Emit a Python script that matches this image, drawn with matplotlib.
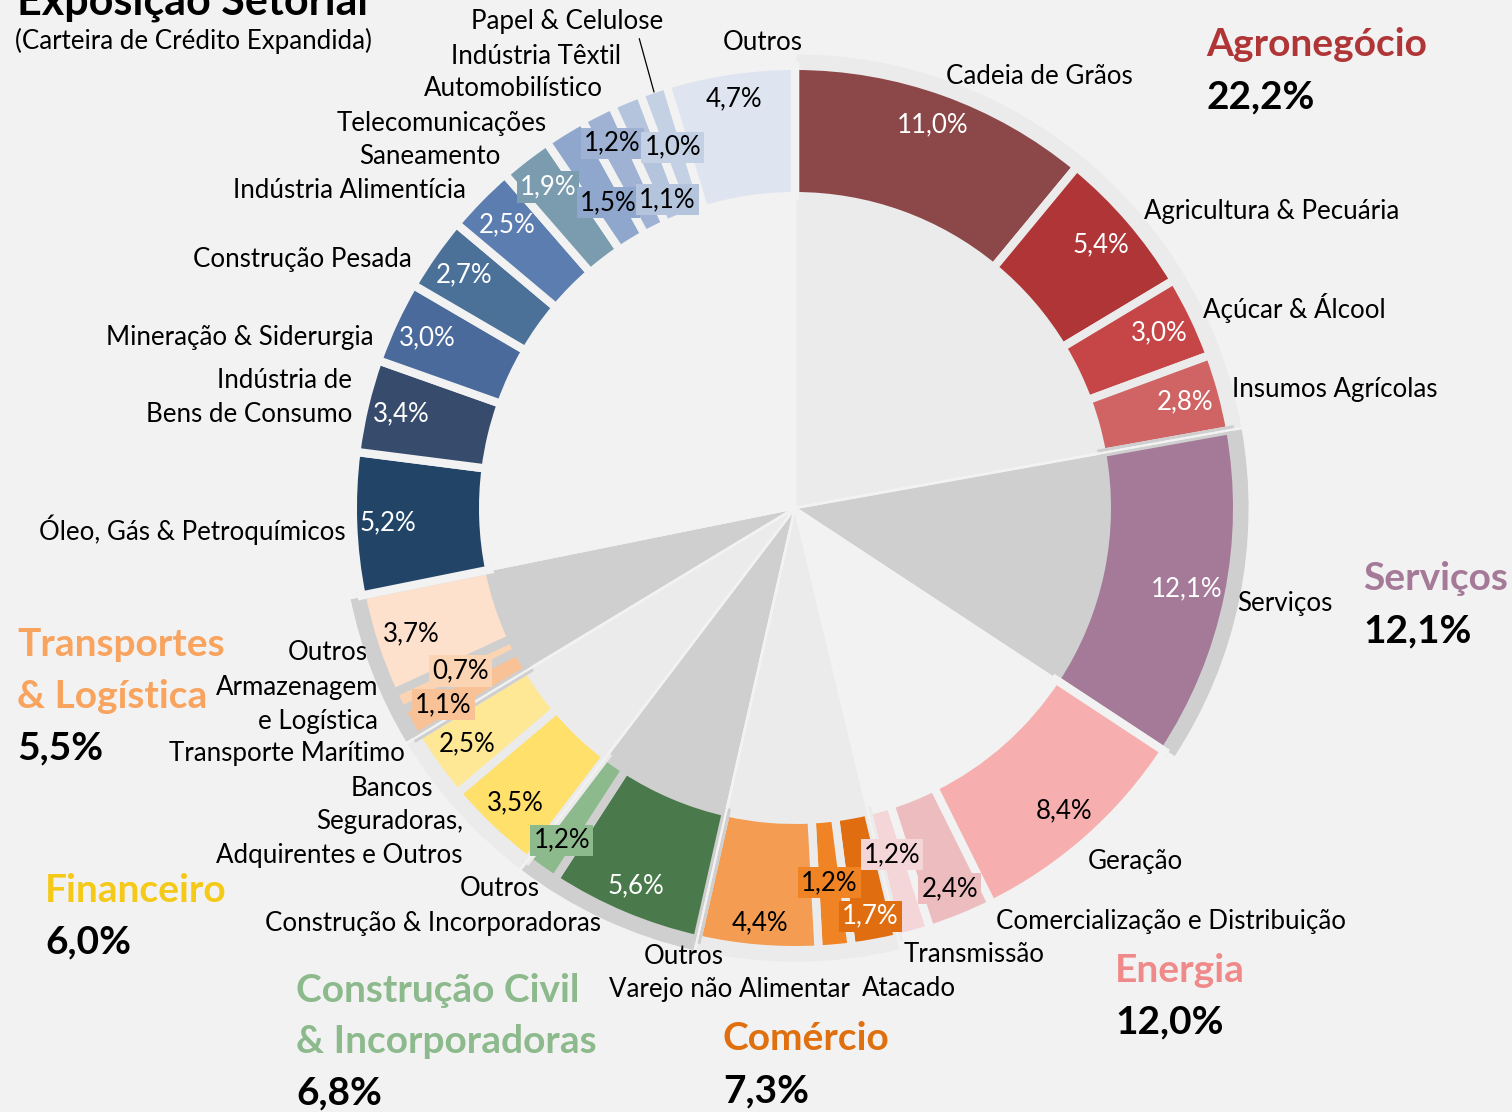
import matplotlib
matplotlib.use('Agg')
import matplotlib.pyplot as plt
import numpy as np

# ---------------- data ----------------
agro_labels = ['Cadeia de Grãos', 'Agricultura & Pecuária', 'Açúcar & Álcool', 'Insumos Agrícolas']
agro_values = [11.0, 5.4, 3.0, 2.8]
serv_labels = ['Serviços']
serv_values = [12.1]
energia_labels = ['Geração', 'Comercialização e Distribuição', 'Transmissão']
energia_values = [8.4, 2.4, 1.2]
comercio_labels = ['Atacado', 'Varejo não Alimentar', 'Outros']
comercio_values = [1.7, 1.2, 4.4]
constr_labels = ['Construção & Incorporadoras', 'Outros']
constr_values = [5.6, 1.2]
fin_labels = ['Seguradoras,\nAdquirentes e Outros', 'Bancos']
fin_values = [3.5, 2.5]
transp_labels = ['Transporte Marítimo', 'Armazenagem\ne Logística', 'Outros']
transp_values = [1.1, 0.7, 3.7]
ind_labels = ['Óleo, Gás & Petroquímicos', 'Indústria de\nBens de Consumo', 'Mineração & Siderurgia',
              'Construção Pesada', 'Indústria Alimentícia', 'Saneamento', 'Telecomunicações',
              'Automobilístico', 'Indústria Têxtil', 'Papel & Celulose', 'Outros']
ind_values = [5.2, 3.4, 3.0, 2.7, 2.5, 1.9, 1.5, 1.2, 1.1, 1.0, 4.7]
group_names = ['Agronegócio', 'Serviços', 'Energia', 'Comércio', 'Construção Civil\n& Incorporadoras',
               'Financeiro', 'Transportes\n& Logística', 'Indústria']

title = 'Exposição Setorial'
subtitle = '(Carteira de Crédito Expandida)'

groups_labels = [agro_labels, serv_labels, energia_labels, comercio_labels, constr_labels,
                 fin_labels, transp_labels, ind_labels]
groups_values = [agro_values, serv_values, energia_values, comercio_values, constr_values,
                 fin_values, transp_values, ind_values]

# ---------------- style / layout ----------------
W, H = 1512, 1112
FIG_BG = '#f2f2f2'
LIGHT = '#ebebeb'
DARK = '#cfcfcf'
group_bg = [LIGHT, DARK, FIG_BG, LIGHT, DARK, LIGHT, DARK, FIG_BG]
group_title_colors = ['#b03537', '#a47a98', '#f08a8a', '#e0700f', '#8cba8c', '#f5c918', '#f8a35e', None]
seg_colors = [
    ['#8c4748', '#b03537', '#c64546', '#d06363'],
    ['#a47a98'],
    ['#f6aeae', '#ecbcbf', '#f5d6d8'],
    ['#e06e10', '#f08424', '#f39c52'],
    ['#4a7a4c', '#8cba8c'],
    ['#fee06a', '#fee896'],
    ['#f8c196', '#fbd4b4', '#fde1cc'],
    ['#214467', '#374b6c', '#4a6a9c', '#4b7199', '#5b7db0', '#7b9caf', '#8fa7cc', '#9fb2d3',
     '#b4c4dd', '#c4d0e4', '#dee5f0'],
]
pct_white = [
    [1, 1, 1, 1], [1], [0, 0, 0], [1, 0, 0], [1, 0], [0, 0], [0, 0, 0],
    [1, 1, 1, 1, 1, 1, 0, 0, 0, 0, 0],
]
pct_box = [
    [0, 0, 0, 0], [0], [0, 1, 1], [1, 1, 0], [0, 1], [0, 0], [1, 1, 0],
    [0, 0, 0, 0, 0, 1, 1, 1, 1, 1, 0],
]
pct_r = [
    [407, 403, 404, 404], [400], [405, 411, 360], [415, 376, 416], [410, 406], [406, 404],
    [403, 372, 404],
    [407, 405, 405, 405, 404, 405, 358, 408, 334, 381, 414],
]
# name label positions in image pixels (x, y from top, horizontal alignment)
name_pos = [
    [(946, 76, 'left'), (1144, 211, 'left'), (1203, 308, 'left'), (1232, 389, 'left')],
    [(1237, 604, 'left')],
    [(1088, 861, 'left'), (996, 921, 'left'), (904, 954, 'left')],
    [(862, 988, 'left'), (850, 990, 'right'), (724, 957, 'right')],
    [(601, 923, 'right'), (540, 889, 'right')],
    [(463, 838, 'right'), (433, 788, 'right')],
    [(405, 754, 'right'), (378, 704, 'right'), (368, 653, 'right')],
    [(346, 530, 'right'), (352, 397, 'right'), (374, 337, 'right'), (412, 260, 'right'),
     (466, 190, 'right'), (501, 157, 'right'), (547, 123, 'right'), (603, 89, 'right'),
     (621, 56, 'right'), (567, 22, 'center'), (763, 42, 'center')],
]
group_title_pos = [(1206, 45), (1363, 579), (1115, 970), (723, 1039), (296, 990), (45, 890), (17, 645), None]
TITLE_STEP = 51.5

CX, CY_IMG = 795, 508
CY = H - CY_IMG
R_BG = 455
LW = 6.0                      # points
LW_PX = LW * 100 / 72
R_OUT = 438 + LW_PX / 2
R_IN = 316 - LW_PX / 2

FONT = ['Lato', 'DejaVu Sans']
FS = 18.6
FS_G = 28
LINESP = 1.45

plt.rcParams['font.family'] = FONT

fig = plt.figure(figsize=(W / 100, H / 100), dpi=100, facecolor=FIG_BG)
ax = fig.add_axes([0, 0, 1, 1])
ax.set_facecolor(FIG_BG)

group_totals = [sum(v) for v in groups_values]
all_values = [v for g in groups_values for v in g]
all_colors = [c for g in seg_colors for c in g]
seg_group = [gi for gi, g in enumerate(groups_values) for _ in g]
total = sum(all_values)

# background wedges per group
bg_wedges, _ = ax.pie(group_totals, radius=R_BG, center=(CX, CY), startangle=90, counterclock=False,
                      colors=group_bg, normalize=True,
                      wedgeprops=dict(edgecolor=FIG_BG, linewidth=2))

# ring segments
seg_wedges, _ = ax.pie(all_values, radius=R_OUT, center=(CX, CY), startangle=90, counterclock=False,
                       colors=all_colors, normalize=True,
                       wedgeprops=dict(width=R_OUT - R_IN, linewidth=LW))
for w, gi in zip(seg_wedges, seg_group):
    w.set_edgecolor(group_bg[gi])
    w.set_clip_path(bg_wedges[gi])

# group separators drawn again on top
ax.pie(group_totals, radius=R_BG, center=(CX, CY), startangle=90, counterclock=False,
       colors=['none'] * len(group_totals), normalize=True,
       wedgeprops=dict(edgecolor=FIG_BG, linewidth=1.5, fill=False))

ax.set_xlim(0, W)
ax.set_ylim(0, H)
ax.set_aspect('equal')
ax.axis('off')


def fmt(v):
    return f'{v:.1f}'.replace('.', ',') + '%'


# percentage labels
cum = 0.0
for gi, vals in enumerate(groups_values):
    for si, v in enumerate(vals):
        theta = np.deg2rad((cum + v / 2) / total * 360)
        cum += v
        r = pct_r[gi][si]
        x = CX + r * np.sin(theta)
        y = CY + r * np.cos(theta)
        kw = {}
        if pct_box[gi][si]:
            kw['bbox'] = dict(boxstyle='square,pad=0.12', fc=seg_colors[gi][si], ec='none')
        ax.text(x, y, fmt(v), ha='center', va='center', fontsize=FS,
                color='white' if pct_white[gi][si] else 'black', **kw)

# segment name labels
for gi, labs in enumerate(groups_labels):
    for si, lab in enumerate(labs):
        x, y, ha = name_pos[gi][si]
        if lab == 'Papel & Celulose':
            ax.annotate(lab, xy=(654, H - 92), xytext=(x, H - y), ha=ha, va='center', fontsize=FS,
                        color='black',
                        arrowprops=dict(arrowstyle='-', color='black', lw=0.9,
                                        relpos=(0.87, 0.0), shrinkA=1, shrinkB=0))
        else:
            ax.text(x, H - y, lab, ha=ha, va='center', fontsize=FS, color='black',
                    multialignment=ha if ha != 'center' else 'center', linespacing=LINESP)

# group titles
for gi, name in enumerate(group_names):
    pos = group_title_pos[gi]
    if pos is None:
        continue
    x, y0 = pos
    lines = name.split('\n')
    for li, line in enumerate(lines):
        ax.text(x, H - (y0 + li * TITLE_STEP), line, ha='left', va='center', fontsize=FS_G,
                fontweight='bold', color=group_title_colors[gi])
    ax.text(x, H - (y0 + len(lines) * TITLE_STEP), fmt(group_totals[gi]), ha='left', va='center',
            fontsize=FS_G, fontweight='bold', color='black')

# title
ax.text(17, H - 14, title, ha='left', va='baseline', fontsize=31, fontweight='bold', color='black')
ax.text(15, H - 41, subtitle, ha='left', va='center', fontsize=FS, color='black')

fig.savefig('out.png', dpi=100, facecolor=FIG_BG)
